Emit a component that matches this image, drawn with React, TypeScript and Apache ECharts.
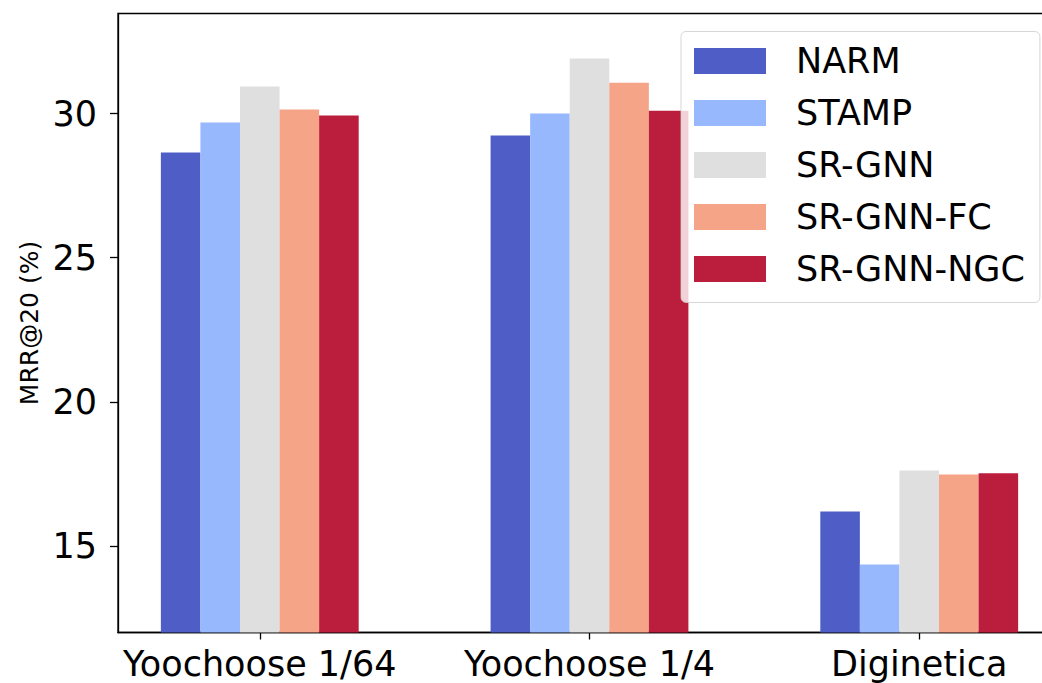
import React, { useEffect, useRef } from "react";
import * as echarts from "echarts";

// Datasets on the x axis (one group of bars per dataset)
const datasets = ["Yoochoose 1/64", "Yoochoose 1/4", "Diginetica"];
const datasetPositions = [0, 1, 2];

// MRR@20 (%) per model, one value per dataset
const models = ["NARM", "STAMP", "SR-GNN", "SR-GNN-FC", "SR-GNN-NGC"];
const narm = [28.65, 29.24, 16.2];
const stamp = [29.69, 30.0, 14.36];
const srgnn = [30.94, 31.91, 17.62];
const srgnnFc = [30.14, 31.07, 17.48];
const srgnnNgc = [29.93, 30.1, 17.52];

// y-axis tick labels
const yTicks = [15, 20, 25, 30];

// coolwarm palette drawn at 0.9 opacity on white
const colors = ["#4f5ec6", "#98b8fe", "#dfdfdf", "#f5a487", "#bb1e3d"];

const FONT = "DejaVu Sans";

export default function App() {
  const ref = useRef<HTMLDivElement>(null);

  useEffect(() => {
    if (!ref.current) return;
    const chart = echarts.init(ref.current, null, { renderer: "svg" });
    const seriesValues = [narm, stamp, srgnn, srgnnFc, srgnnNgc];

    chart.setOption({
      animation: false,
      backgroundColor: "#ffffff",
      textStyle: { fontFamily: FONT },
      grid: {
        left: 118,
        top: 13.5,
        width: 943,
        height: 619,
        outerBoundsMode: "none",
        containLabel: false,
        show: true,
        borderColor: "#000",
        borderWidth: 1.3,
        backgroundColor: "transparent",
      },
      legend: {
        orient: "vertical",
        left: 681,
        top: 31.5,
        icon: "rect",
        itemWidth: 72,
        itemHeight: 26,
        itemGap: 17,
        padding: [12, 15, 16, 13],
        backgroundColor: "rgba(255,255,255,0.8)",
        borderColor: "rgba(204,204,204,0.8)",
        borderWidth: 1,
        borderRadius: 5,
        selectedMode: false,
        textStyle: {
          fontFamily: FONT,
          fontSize: 35,
          color: "#000",
          padding: [0, 0, 0, 25],
        },
        data: models,
      },
      xAxis: {
        type: "value",
        min: -0.43,
        max: 2.43,
        axisLine: { show: true, onZero: false, lineStyle: { color: "#000", width: 1.3 } },
        axisTick: {
          show: true,
          customValues: datasetPositions,
          length: 7,
          lineStyle: { color: "#000", width: 1.3 },
        },
        axisLabel: {
          customValues: datasetPositions,
          formatter: (v: number) => datasets[Math.round(v)] ?? "",
          fontFamily: FONT,
          fontSize: 35,
          color: "#000",
          margin: 14,
        },
        splitLine: { show: false },
      },
      yAxis: {
        type: "value",
        min: 12,
        max: 33.47,
        name: "MRR@20 (%)",
        nameLocation: "middle",
        nameGap: 75,
        nameTextStyle: { fontFamily: FONT, fontSize: 25, color: "#000" },
        axisLine: { show: true, onZero: false, lineStyle: { color: "#000", width: 1.3 } },
        axisTick: {
          show: true,
          customValues: yTicks,
          length: 8,
          lineStyle: { color: "#000", width: 1.3 },
        },
        axisLabel: {
          customValues: yTicks,
          fontFamily: FONT,
          fontSize: 35,
          color: "#000",
          margin: 21,
        },
        splitLine: { show: false },
      },
      series: models.map((name, i) => ({
        name,
        type: "bar",
        barWidth: "12%",
        barGap: "0%",
        itemStyle: { color: colors[i] },
        data: datasetPositions.map((x, j) => [x, seriesValues[i][j]]),
      })),
    });

    return () => chart.dispose();
  }, []);

  return (
    <div
      ref={ref}
      style={{ position: "fixed", left: 0, top: 0, width: 1042, height: 683 }}
    />
  );
}
